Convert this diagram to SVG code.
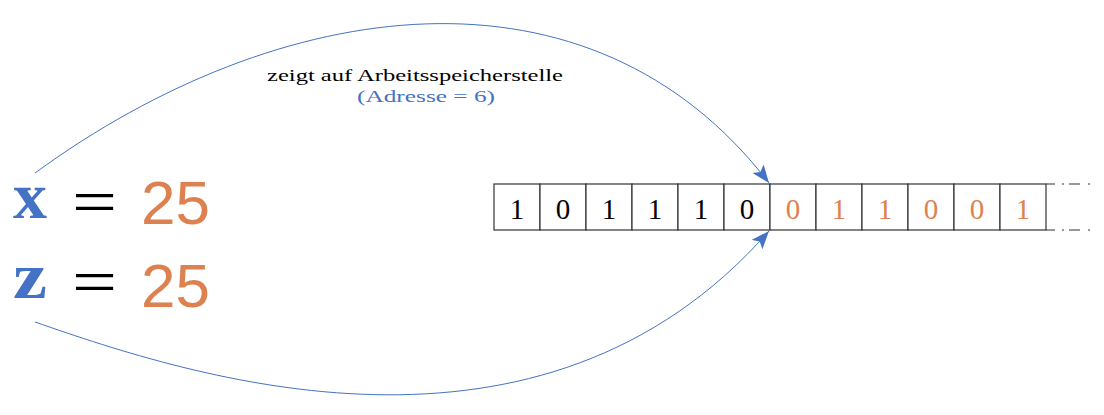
<svg xmlns="http://www.w3.org/2000/svg" width="1104" height="415" viewBox="0 0 1104 415">
<style>
.bl{fill:#4472c4}
.or{fill:#dd8150}
.cell{fill:#fff;stroke:#333;stroke-width:1.2}
.d{font-family:"Liberation Serif",serif;font-size:29px;text-anchor:middle}
.conn{fill:none;stroke:#4472c4;stroke-width:1}
.lbl{font-family:"Liberation Serif",serif;font-size:16px;text-anchor:middle}
.big{font-family:"Liberation Sans",sans-serif;font-size:62px}
.var{font-family:"Liberation Serif",serif;font-size:66px;font-weight:bold}
.eq{font-family:"Liberation Serif",serif;font-size:64px}
</style>
<defs>
<marker id="ah" markerUnits="userSpaceOnUse" markerWidth="20" markerHeight="16" refX="18" refY="7" orient="auto">
<path d="M0,0 L18,7 L0,14 L4,7 z" fill="#4472c4"/>
</marker>
</defs>
<g id="connectors">
<path class="conn" d="M35,173 C279,-5 590,-50 769,183" marker-end="url(#ah)"/>
<path class="conn" d="M35,322 C190,376 540,492 769,231" marker-end="url(#ah)"/>
</g>
<g id="label">
<text class="lbl" x="415" y="81" textLength="296" lengthAdjust="spacingAndGlyphs">zeigt auf Arbeitsspeicherstelle</text>
<text class="lbl bl" x="426" y="102" textLength="138" lengthAdjust="spacingAndGlyphs">(Adresse = 6)</text>
</g>
<g id="var-x">
<text class="var bl" x="13" y="218" textLength="34" lengthAdjust="spacingAndGlyphs">x</text>
<text class="eq" x="72" y="223" textLength="45" lengthAdjust="spacingAndGlyphs">=</text>
<text class="big or" x="141" y="224" textLength="69" lengthAdjust="spacingAndGlyphs">25</text>
</g>
<g id="var-z">
<text class="var bl" x="13" y="298" textLength="34" lengthAdjust="spacingAndGlyphs">z</text>
<text class="eq" x="72" y="302.5" textLength="45" lengthAdjust="spacingAndGlyphs">=</text>
<text class="big or" x="141" y="307" textLength="69" lengthAdjust="spacingAndGlyphs">25</text>
</g>
<g id="memory">
<rect class="cell" x="494" y="184" width="46" height="46"/>
<rect class="cell" x="540" y="184" width="46" height="46"/>
<rect class="cell" x="586" y="184" width="46" height="46"/>
<rect class="cell" x="632" y="184" width="46" height="46"/>
<rect class="cell" x="678" y="184" width="46" height="46"/>
<rect class="cell" x="724" y="184" width="46" height="46"/>
<rect class="cell" x="770" y="184" width="46" height="46"/>
<rect class="cell" x="816" y="184" width="46" height="46"/>
<rect class="cell" x="862" y="184" width="46" height="46"/>
<rect class="cell" x="908" y="184" width="46" height="46"/>
<rect class="cell" x="954" y="184" width="46" height="46"/>
<rect class="cell" x="1000" y="184" width="46" height="46"/>
<path d="M1046,184 H1055 M1046,230 H1055" stroke="#333" stroke-width="1.2"/>
<path d="M1062,184 H1064 M1069,184 H1080 M1088,184 H1090 M1062,230 H1064 M1069,230 H1080 M1088,230 H1090" stroke="#333" stroke-width="1.2"/>
<text class="d" x="517" y="219">1</text>
<text class="d" x="563" y="219">0</text>
<text class="d" x="609" y="219">1</text>
<text class="d" x="655" y="219">1</text>
<text class="d" x="701" y="219">1</text>
<text class="d" x="747" y="219">0</text>
<text class="d or" x="793" y="219">0</text>
<text class="d or" x="839" y="219">1</text>
<text class="d or" x="885" y="219">1</text>
<text class="d or" x="931" y="219">0</text>
<text class="d or" x="977" y="219">0</text>
<text class="d or" x="1023" y="219">1</text>
</g>
</svg>
